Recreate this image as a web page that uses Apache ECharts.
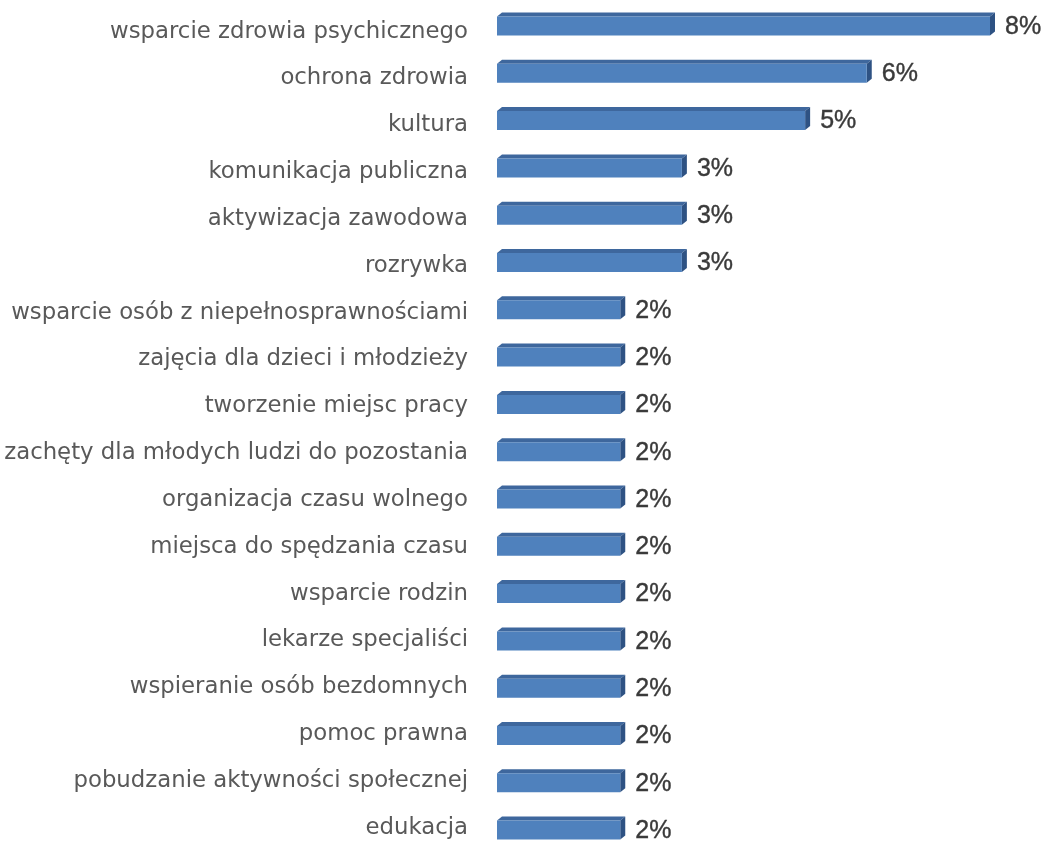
<!DOCTYPE html>
<html>
<head>
<meta charset="utf-8">
<script src="https://cdn.jsdelivr.net/npm/echarts@6/dist/echarts.min.js"></script>
<style>
  html, body { margin: 0; padding: 0; background: #ffffff; }
  #chart { width: 1044px; height: 847px; }
</style>
</head>
<body>
<div id="chart"></div>
<script>
// Categories, top to bottom
const categories = [
  'wsparcie zdrowia psychicznego',
  'ochrona zdrowia',
  'kultura',
  'komunikacja publiczna',
  'aktywizacja zawodowa',
  'rozrywka',
  'wsparcie osób z niepełnosprawnościami',
  'zajęcia dla dzieci i młodzieży',
  'tworzenie miejsc pracy',
  'zachęty dla młodych ludzi do pozostania',
  'organizacja czasu wolnego',
  'miejsca do spędzania czasu',
  'wsparcie rodzin',
  'lekarze specjaliści',
  'wspieranie osób bezdomnych',
  'pomoc prawna',
  'pobudzanie aktywności społecznej',
  'edukacja'
];

// Share of answers, percent
const shares = [8, 6, 5, 3, 3, 3, 2, 2, 2, 2, 2, 2, 2, 2, 2, 2, 2, 2];

const FRONT = '#4f81bd';
const TOP = '#3e679d';
const SIDE = '#2e5283';
const VALUE_COLOR = '#3a3a3a';

const chart = echarts.init(document.getElementById('chart'));

// Bar with a shallow 3D look: front face, top face and right side face
function renderBar(params, api) {
  const v = api.value(0);
  const c = api.value(1);
  const start = api.coord([0, c]);
  const end = api.coord([v, c]);
  const h = 19, dx = 5, dy = 4;
  const x0 = start[0], x1 = end[0];
  const yT = start[1] - h / 2, yB = start[1] + h / 2;
  return {
    type: 'group',
    children: [
      { type: 'polygon', shape: { points: [[x0, yT], [x0 + dx, yT - dy], [x1 + dx, yT - dy], [x1, yT]] }, style: { fill: TOP } },
      { type: 'polygon', shape: { points: [[x1, yT], [x1 + dx, yT - dy], [x1 + dx, yB - dy], [x1, yB]] }, style: { fill: SIDE } },
      { type: 'rect', shape: { x: x0, y: yT, width: x1 - x0, height: h }, style: { fill: FRONT } },
      { type: 'text', style: {
          text: v + '%', x: x1 + 15, y: start[1] + 1,
          verticalAlign: 'middle', align: 'left',
          fill: VALUE_COLOR, stroke: VALUE_COLOR, lineWidth: 0.4,
          font: '25px "Liberation Sans", Arial, sans-serif'
        } }
    ]
  };
}

chart.setOption({
  animation: false,
  grid: [
    // bars
    { left: 497, width: 493, top: 2.35, height: 851.4, outerBoundsMode: 'none' },
    // category labels (slightly tighter spacing than the bars' perspective)
    { left: 497, width: 493, top: 8.3, height: 842.8, outerBoundsMode: 'none' }
  ],
  xAxis: [
    { type: 'value', min: 0, max: 8, show: false, gridIndex: 0 },
    { type: 'value', min: 0, max: 8, show: false, gridIndex: 1 }
  ],
  yAxis: [
    {
      type: 'category', gridIndex: 0, data: categories, inverse: true,
      axisLine: { show: false }, axisTick: { show: false }, axisLabel: { show: false }
    },
    {
      type: 'category', gridIndex: 1, data: categories, inverse: true,
      axisLine: { show: false },
      axisTick: { show: false },
      axisLabel: {
        margin: 29,
        color: '#595959',
        fontSize: 22.8,
        fontFamily: '"DejaVu Sans", sans-serif'
      }
    }
  ],
  series: [{
    type: 'custom',
    xAxisIndex: 0,
    yAxisIndex: 0,
    renderItem: renderBar,
    encode: { x: 0, y: 1 },
    data: shares.map((s, i) => [s, i])
  }]
});
</script>
</body>
</html>
